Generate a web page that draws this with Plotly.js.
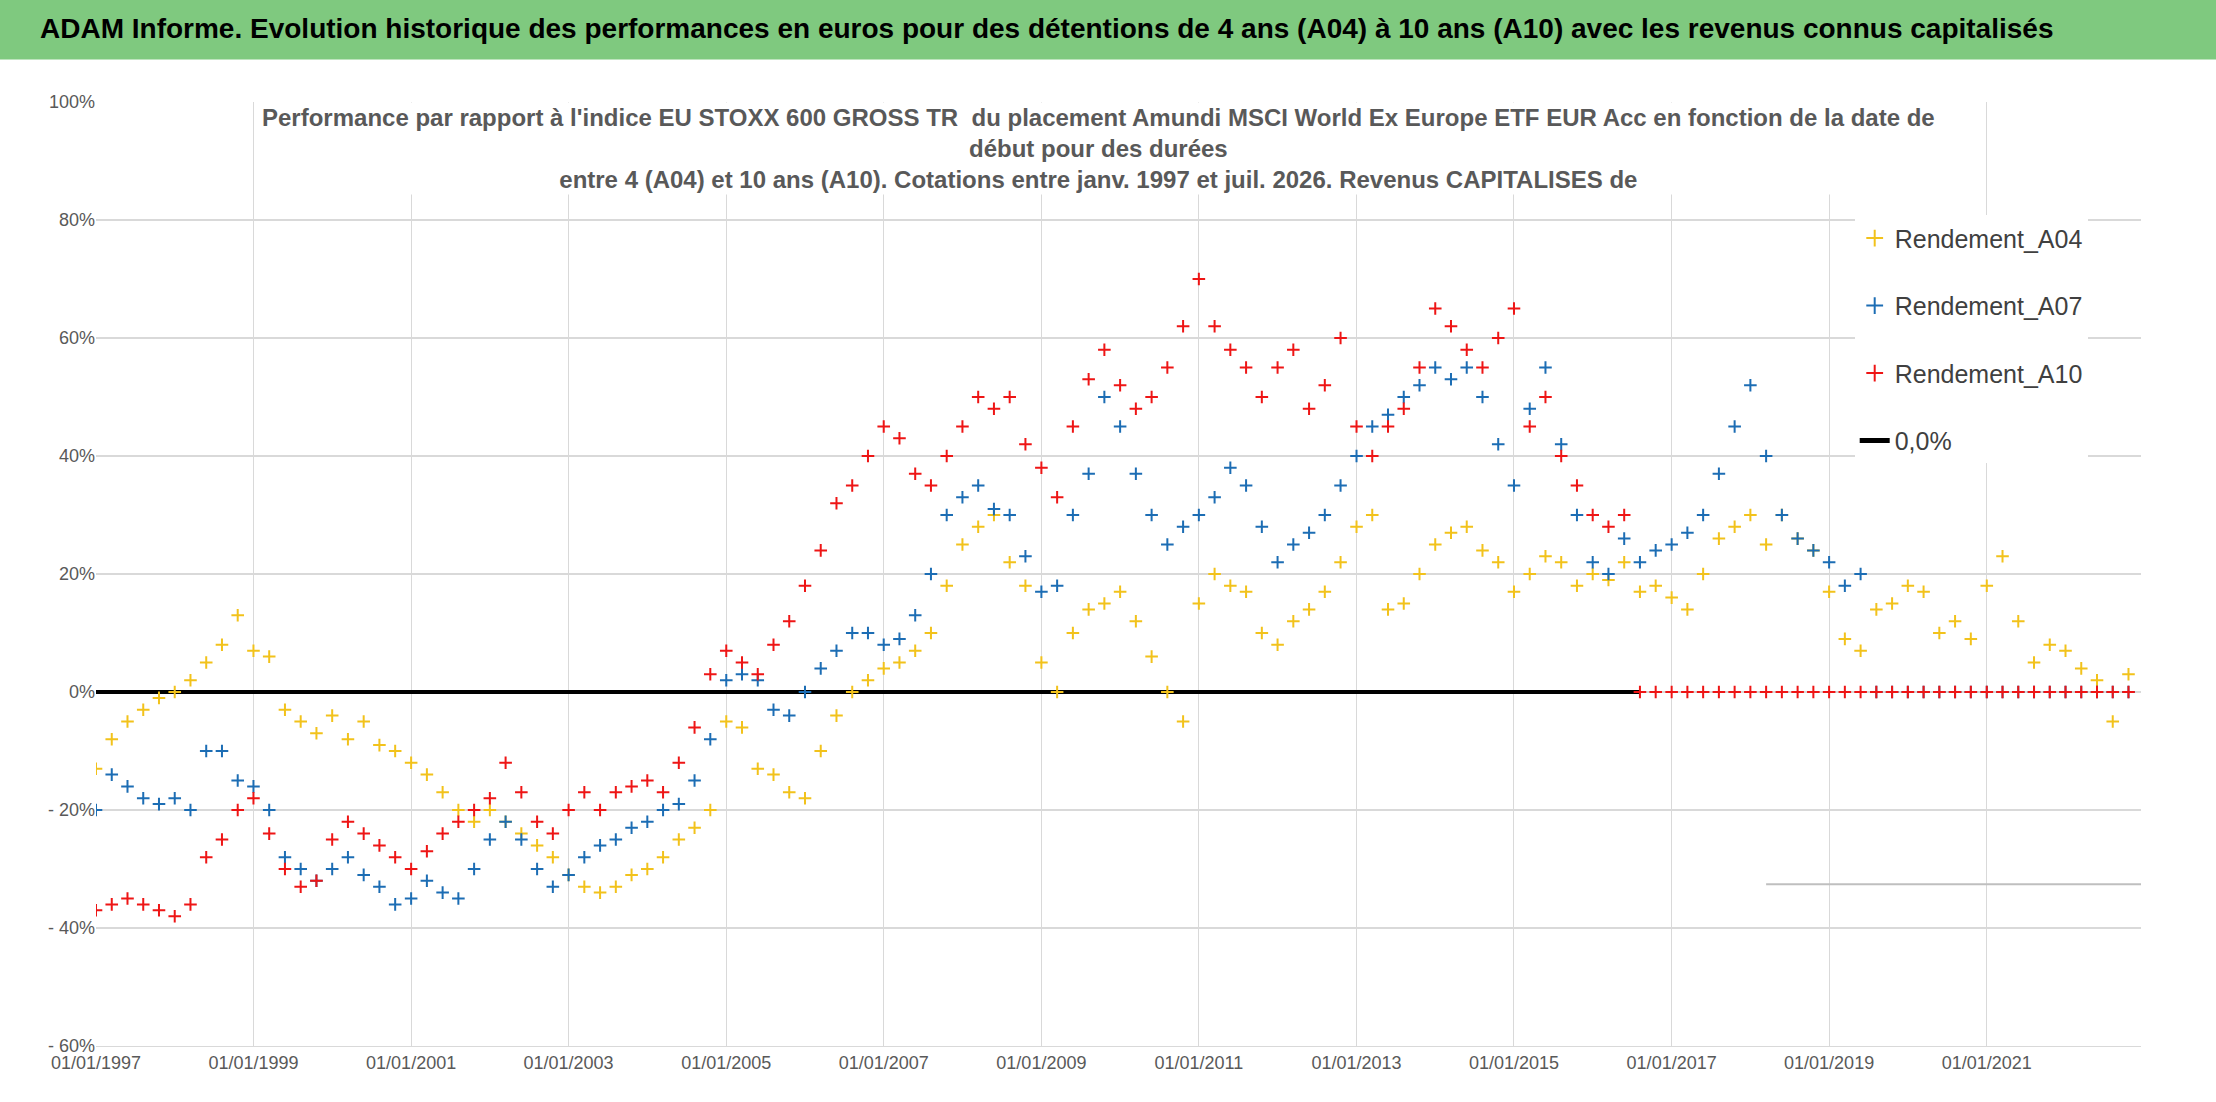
<!DOCTYPE html>
<html>
<head>
<meta charset="utf-8">
<script src="https://cdn.plot.ly/plotly-3.0.1.min.js"></script>
<style>html,body{margin:0;padding:0;background:#fff}#chart{width:2216px;height:1102px}</style>
</head>
<body>
<div id="chart"></div>
<script>
// start of series in decimal years, one value every 0.2 year
var start = 1997.0;
var step = 0.2;

var a04 = [-13,-8,-5,-3,-1,0,2,5,8,13, 7,6,-3,-5,-7,-4,-8,-5,-9,-10,
  -12,-14,-17,-20,-22,-20,-22,-24,-26,-28, -31,-33,-34,-33,-31,-30,-28,-25,-23,-20,
  -5,-6,-13,-14,-17,-18,-10,-4,0,2, 4,5,7,10,18,25,28,30,22,18,
  5,0,10,14,15,17,12,6,0,-5, 15,20,18,17,10,8,12,14,17,22,
  28,30,14,15,20,25,27,28,24,22, 17,20,23,22,18,20,19,22,17,18,
  16,14,20,26,28,30,25,30,26,24, 17,9,7,14,15,18,17,10,12,9,
  18,23,12,5,8,7,4,2,-5,3];
var a07 = [-20,-14,-16,-18,-19,-18,-20,-10,-10,-15, -16,-20,-28,-30,-32,-30,-28,-31,-33,-36,
  -35,-32,-34,-35,-30,-25,-22,-25,-30,-33, -31,-28,-26,-25,-23,-22,-20,-19,-15,-8,
  2,3,2,-3,-4,0,4,7,10,10, 8,9,13,20,30,33,35,31,30,23,
  17,18,30,37,50,45,37,30,25,28, 30,33,38,35,28,22,25,27,30,35,
  40,45,47,50,52,55,53,55,50,42, 35,48,55,42,30,22,20,26,22,24,
  25,27,30,37,45,52,40,30,26,24, 22,18,20,0,0,0,0,0,0,0,
  0,0,0,0,0,0,0,0,0,0];
var a10 = [-37,-36,-35,-36,-37,-38,-36,-28,-25,-20, -18,-24,-30,-33,-32,-25,-22,-24,-26,-28,
  -30,-27,-24,-22,-20,-18,-12,-17,-22,-24, -20,-17,-20,-17,-16,-15,-17,-12,-6,3,
  7,5,3,8,12,18,24,32,35,40, 45,43,37,35,40,45,50,48,50,42,
  38,33,45,53,58,52,48,50,55,62, 70,62,58,55,50,55,58,48,52,60,
  45,40,45,48,55,65,62,58,55,60, 65,45,50,40,35,30,28,30,0,0,
  0,0,0,0,0,0,0,0,0,0, 0,0,0,0,0,0,0,0,0,0,
  0,0,0,0,0,0,0,0,0,0];
var zeroLineYears = [1997.0, 2016.6];
var zeroLineValues = [0, 0];

var yTicks = [-60,-40,-20,0,20,40,60,80,100];
var yTickText = ['- 60%','- 40%','- 20%','0%','20%','40%','60%','80%','100%'];
var xTickYears = [1997,1999,2001,2003,2005,2007,2009,2011,2013,2015,2017,2019,2021];

function toDate(y) {
  var yr = Math.floor(y);
  var ms = Date.UTC(yr,0,1) + (y - yr) * 365.25 * 86400000;
  return new Date(ms).toISOString().slice(0,10);
}
function dates(n) { var d = []; for (var i = 0; i < n; i++) d.push(toDate(start + i*step)); return d; }

var font = 'Liberation Sans, Arial, sans-serif';
function mk(name, vals, color, rank) {
  return {x: dates(vals.length), y: vals, name: name, mode: 'markers', type: 'scatter',
    legendrank: rank, legendgroup: name,
    marker: {symbol: 'cross-thin-open', size: 9, line: {color: color, width: 2}, color: color}};
}
var data = [
  {x: zeroLineYears.map(toDate), y: zeroLineValues, name: '0,0%', mode: 'lines',
   legendrank: 4, legendgroup: 'zero', line: {color: '#000', width: 4}},
  mk('Rendement_A04', a04, '#f2c21b', 1),
  mk('Rendement_A07', a07, '#1c6db4', 2),
  mk('Rendement_A10', a10, '#ee1515', 3)
];

var layout = {
  width: 2216, height: 1102,
  margin: {l: 96, r: 75, t: 102, b: 56},
  paper_bgcolor: '#fff', plot_bgcolor: '#fff',
  font: {family: font, color: '#595959'},
  showlegend: true,
  legend: {x: 0.86, y: 0.88, xanchor: 'left', yanchor: 'top', bgcolor: '#fff',
    font: {size: 25, color: '#404040'}, traceorder: 'grouped', itemsizing: 'constant',
    tracegroupgap: 32},
  xaxis: {type: 'date', range: [toDate(1997), toDate(2022.96)],
    tickvals: xTickYears.map(toDate), ticktext: xTickYears.map(function(y){return '01/01/' + y;}),
    showgrid: true, gridcolor: '#d9d9d9', gridwidth: 1, zeroline: false,
    showline: true, linecolor: '#d9d9d9', tickfont: {size: 18, color: '#595959'}},
  yaxis: {range: [-60, 100], tickvals: yTicks, ticktext: yTickText,
    showgrid: true, gridcolor: '#d9d9d9', gridwidth: 2, zeroline: false,
    tickfont: {size: 18, color: '#595959'}},
  shapes: [
    {type: 'rect', xref: 'paper', yref: 'paper', x0: -0.05, x1: 1.04, y0: 1.045, y1: 1.11,
     fillcolor: '#7fc97f', line: {width: 0}, layer: 'below'},
    {type: 'line', xref: 'x', yref: 'y', x0: toDate(2018.2), x1: toDate(2022.96), y0: -32.6, y1: -32.6,
     line: {color: '#bfbfbf', width: 2}}
  ],
  annotations: [
    {xref: 'paper', yref: 'paper', x: 0.465, y: 1.078, xanchor: 'center', yanchor: 'middle', showarrow: false,
     text: '<b>ADAM Informe. Evolution historique des performances en euros pour des détentions de 4 ans (A04) à 10 ans (A10) avec les revenus connus capitalisés</b>',
     font: {size: 28, color: '#000', family: font}},
    {xref: 'paper', yref: 'paper', x: 0.49, y: 1.0, xanchor: 'center', yanchor: 'top', showarrow: false,
     bgcolor: '#fff', align: 'center',
     text: "<b>Performance par rapport à l'indice EU STOXX 600 GROSS TR  du placement Amundi MSCI World Ex Europe ETF EUR Acc en fonction de la date de<br>début pour des durées<br>entre 4 (A04) et 10 ans (A10). Cotations entre janv. 1997 et juil. 2026. Revenus CAPITALISES de</b>",
     font: {size: 24, color: '#595959', family: font}}
  ]
};
Plotly.newPlot('chart', data, layout, {staticPlot: true});
</script>
</body>
</html>
